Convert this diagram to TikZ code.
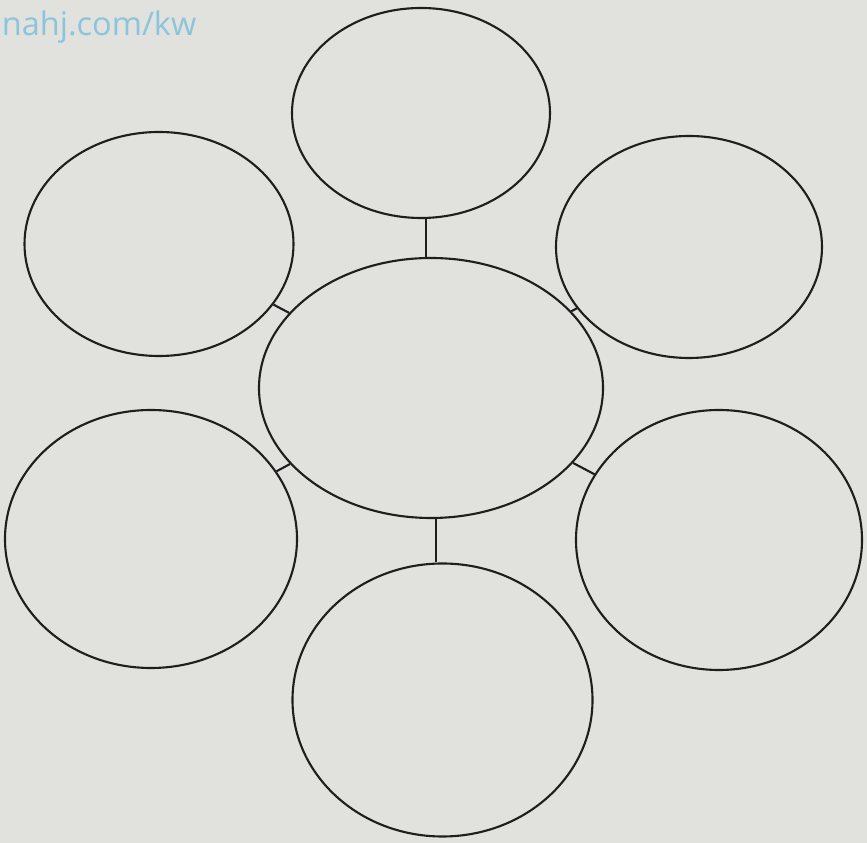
\documentclass[tikz,border=0pt]{standalone}
\usepackage{fontspec}
\setsansfont{Open Sans}
\usetikzlibrary{shapes.geometric,positioning}
\definecolor{paper}{RGB}{225,226,222}
\definecolor{inkline}{RGB}{30,30,30}
\definecolor{markblue}{RGB}{140,196,220}

\begin{document}
\begin{tikzpicture}[
      bubble/.style={draw=inkline,ellipse,line width=1.2pt,inner sep=0pt},
      link/.style={draw=inkline,line width=1.2pt}
    ]
    \fill[paper] (0,0) rectangle (17.34,16.86);
    \useasboundingbox (0,0) rectangle (17.34,16.86);
    \node[anchor=west,text=markblue,font=\sffamily\fontsize{18.5}{18.5}\selectfont,inner sep=0pt] (mark) at (0.03,16.32) {nahj.com/kw};
    % centre and outer bubbles
    \node[bubble,minimum width=6.88cm,minimum height=5.20cm] (mid) at (8.62,9.10) {};
    \node[bubble,minimum width=5.16cm,minimum height=4.20cm] (top) at (8.42,14.60) {};
    \node[bubble,minimum width=5.38cm,minimum height=4.48cm] (upl) at (3.18,11.98) {};
    \node[bubble,minimum width=5.32cm,minimum height=4.44cm] (upr) at (13.78,11.92) {};
    \node[bubble,minimum width=5.84cm,minimum height=5.16cm] (lol) at (3.02,6.08) {};
    \node[bubble,minimum width=5.72cm,minimum height=5.20cm] (lor) at (14.38,6.06) {};
    \node[bubble,minimum width=6.00cm,minimum height=5.46cm] (bot) at (8.85,2.86) {};
    % links
    \draw[link] (mid.north) ++(-0.10,0) coordinate (mt) -- (mt |- top.south);
    \draw[link] (upl) -- (mid);
    \draw[link] (upr) -- (mid);
    \draw[link] (lol) -- (mid);
    \draw[link] (lor) -- (mid);
    \draw[link] (mid.south) ++(0.10,0) coordinate (mb) -- (mb |- bot.north);
  \end{tikzpicture}
\end{document}
